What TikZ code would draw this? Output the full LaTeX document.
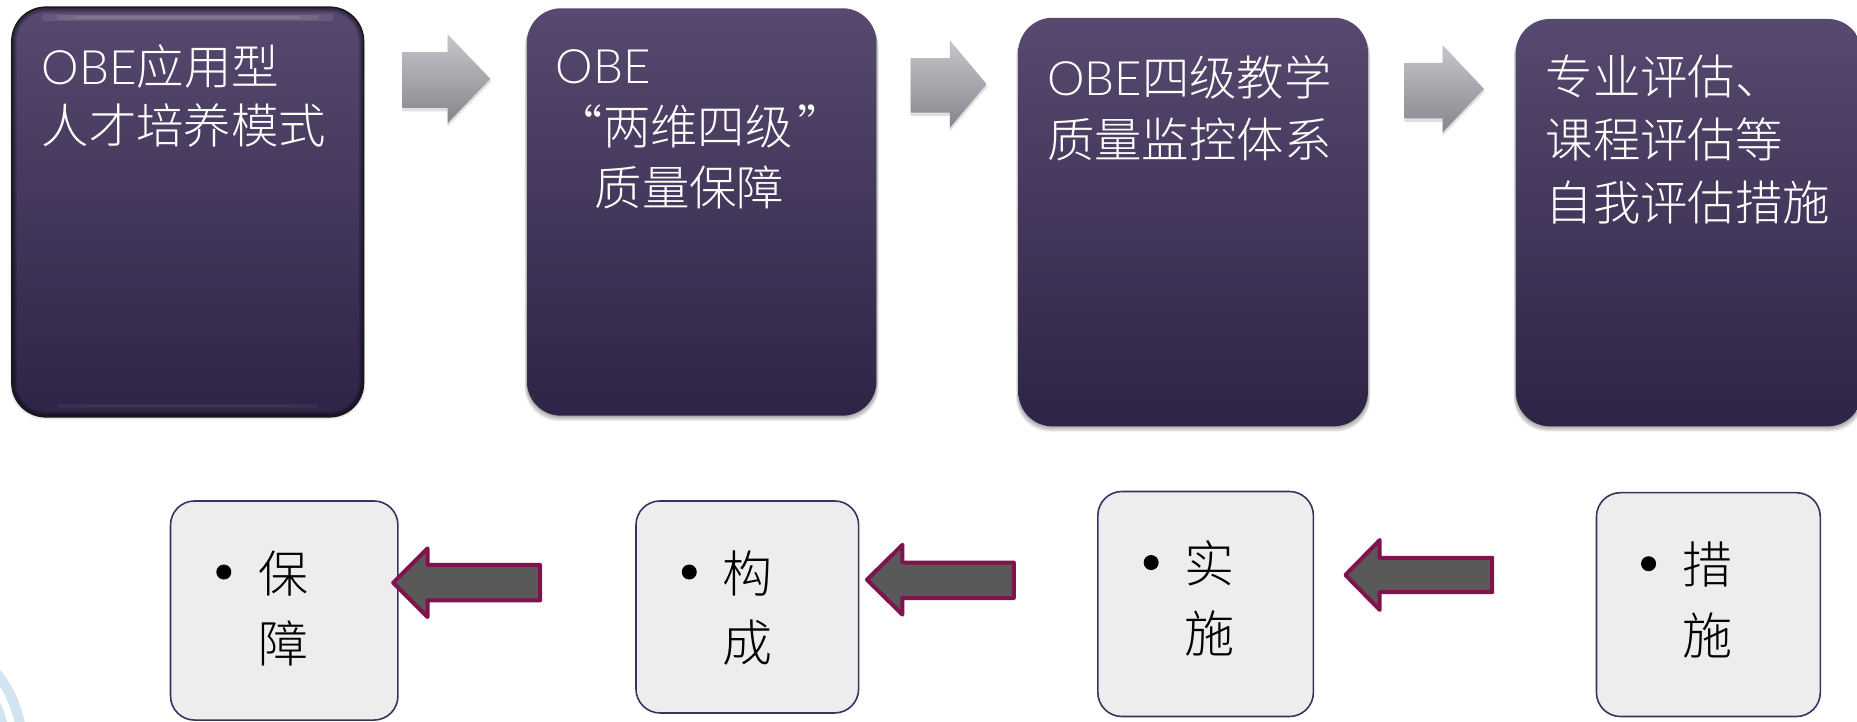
\documentclass[tikz,border=0pt]{standalone}
\usepackage{fontspec}
\newfontfamily\cjk{Noto Sans CJK SC Light}
\newfontfamily\lat{Lato Light}
\usetikzlibrary{calc}
\definecolor{ptop}{HTML}{57496F}
\definecolor{pbot}{HTML}{2E2445}
\definecolor{pline}{HTML}{3D3160}
\definecolor{pale}{HTML}{EDEDED}
\definecolor{wine}{HTML}{80134D}
\definecolor{slate}{HTML}{595959}
\definecolor{gtop}{HTML}{C6C6CB}
\definecolor{gbot}{HTML}{85858C}
\definecolor{wmark}{HTML}{D2E4F0}
\def\U{1.1843pt}
\tikzset{
  x=1.1843pt,y=-1.1843pt,
  darkbox/.style={rectangle,rounded corners=34pt,top color=ptop,bottom color=pbot,inner sep=0pt},
  palebox/.style={rectangle,rounded corners=24pt,fill=pale,draw=pline,line width=1.6pt,inner sep=0pt},
  softshade/.style={fill=black,opacity=.07,rounded corners=34pt},
  grayarrow/.style={top color=gtop,bottom color=gbot},
  winearrow/.style={fill=slate,draw=wine,line width=4pt,line join=round},
  upper/.style={anchor=west,text=white,font=\fontsize{47.4pt}{47.4pt}\selectfont\cjk,inner sep=0pt},
  lower/.style={anchor=center,text=black,font=\fontsize{50pt}{50pt}\selectfont\cjk,inner sep=0pt},
  dotmark/.style={circle,fill=black,minimum size=15pt,inner sep=0pt},
}
\newcommand{\rectnode}[6]{%
  \node[#2,minimum width={(#5-#3)*\U},minimum height={(#6-#4)*\U}] (#1) at ({(#3+#5)/2},{(#4+#6)/2}) {};}
\newcommand{\softbelow}[4]{%
  \foreach \d in {1,2,3,4,5}{
    \fill[softshade] ({#1-\d*0.4},{#2+\d*0.9}) rectangle ({#3+\d*0.4},{#4+\d*0.9});}}
\newcommand{\grayblock}[7]{% x1 xbase xtip ytop yshafttop yshaftbot ybot
  \fill[black,opacity=.12] (#1,{#5+2}) -- ({#2},{#5+2}) -- (#2,{#4+3}) -- ({#3+1},{(#4+#7)/2+2}) -- (#2,{#7+3}) -- (#2,{#6+3}) -- (#1,{#6+3}) -- cycle;
  \path[grayarrow] (#1,#5) -- (#2,#5) -- (#2,#4) -- (#3,{(#4+#7)/2}) -- (#2,#7) -- (#2,#6) -- (#1,#6) -- cycle;}
\newcommand{\wineblock}[7]{% xtip xbase xend ytop yst ysb ybot
  \draw[winearrow] (#1,{(#4+#7)/2}) -- (#2,#4) -- (#2,#5) -- (#3,#5) -- (#3,#6) -- (#2,#6) -- (#2,#7) -- cycle;}
\begin{document}
\begin{tikzpicture}
\useasboundingbox (0,0) rectangle (1568,609);
\fill[white] (0,0) rectangle (1568,609);
% watermark fragment
\draw[wmark,line width=10pt] (-8,563) .. controls (4,575) and (13,592) .. (17,612);
\draw[wmark,line width=8pt] (-10,585) .. controls (-3,592) and (1,602) .. (3,612);
% top boxes
\foreach \d in {1,2,3}{\fill[black,opacity=.04,rounded corners=34pt] ({10-\d*0.6},{6+\d*0.8}) rectangle ({307+\d*0.6},{352+\d*0.8});}
\rectnode{b1}{darkbox}{10}{6}{307}{352}
\begin{scope}
  \clip[rounded corners=34pt] (10,6) rectangle (307,352);
  \foreach \w in {2,4,6,8,10}{
    \draw[black,opacity=.12,line width=\w pt,rounded corners=34pt] (10,6) rectangle (307,352);}
  \foreach \a/\h in {28/7,40/5,54/3}{
    \draw[white,opacity=.09,line width=\h pt,line cap=round] ({10+\a},15) -- ({307-\a},15);}
  \foreach \a/\h in {40/4,60/2}{
    \draw[white,opacity=.04,line width=\h pt,line cap=round] ({10+\a},343) -- ({307-\a},343);}
\end{scope}
\draw[black!90,line width=1.4pt,rounded corners=34pt] (10,6) rectangle (307,352);
\softbelow{445}{7}{740}{351}
\rectnode{b2}{darkbox}{445}{7}{740}{351}
\softbelow{860}{15}{1155}{360}
\rectnode{b3}{darkbox}{860}{15}{1155}{360}
\softbelow{1280}{16}{1572}{360}
\rectnode{b4}{darkbox}{1280}{16}{1572}{360}
% gray arrows
\grayblock{340}{378}{414}{29}{44}{91}{104}
\grayblock{769}{802}{833}{34}{49}{95}{108}
\grayblock{1186}{1218}{1253}{38}{53}{100}{112}
% upper text
\node[upper] (t1a) at (35,56) {{\lat OBE}应用型};
\node[upper] (t1b) at (35,106) {人才培养模式};
\node[upper] (t2a) at (469,56) {\lat OBE};
\node[upper] (t2b) at (469,107) {“两维四级\hspace{5pt}”};
\node[upper] (t2c) at (502,158) {质量保障};
\node[upper] (t3a) at (884,65) {{\lat OBE}四级教学};
\node[upper] (t3b) at (884,118) {质量监控体系};
\node[upper] (t4a) at (1305,65) {专业评估、};
\node[upper] (t4b) at (1305,118) {课程评估等};
\node[upper] (t4c) at (1305,171) {自我评估措施};
% lower boxes
\rectnode{c1}{palebox}{144}{423}{336}{608}
\rectnode{c2}{palebox}{537}{423}{725}{602}
\rectnode{c3}{palebox}{927}{415}{1109}{605}
\rectnode{c4}{palebox}{1348}{416}{1537}{605}
% wine arrows
\wineblock{332}{361}{456}{463}{477}{507}{521}
\wineblock{732}{762}{856}{460}{475}{505}{519}
\wineblock{1136}{1165}{1260}{456}{471}{500}{515}
% lower text
\node[dotmark] (d1) at (189,483) {};
\node[lower] (u1a) at (239,484) {保};
\node[lower] (u1b) at (239,543) {障};
\node[dotmark] (d2) at (582,483) {};
\node[lower] (u2a) at (631,484) {构};
\node[lower] (u2b) at (631,543) {成};
\node[dotmark] (d3) at (972,475) {};
\node[lower] (u3a) at (1021,476) {实};
\node[lower] (u3b) at (1021,535) {施};
\node[dotmark] (d4) at (1392,476) {};
\node[lower] (u4a) at (1442,477) {措};
\node[lower] (u4b) at (1442,537) {施};
\end{tikzpicture}
\end{document}
